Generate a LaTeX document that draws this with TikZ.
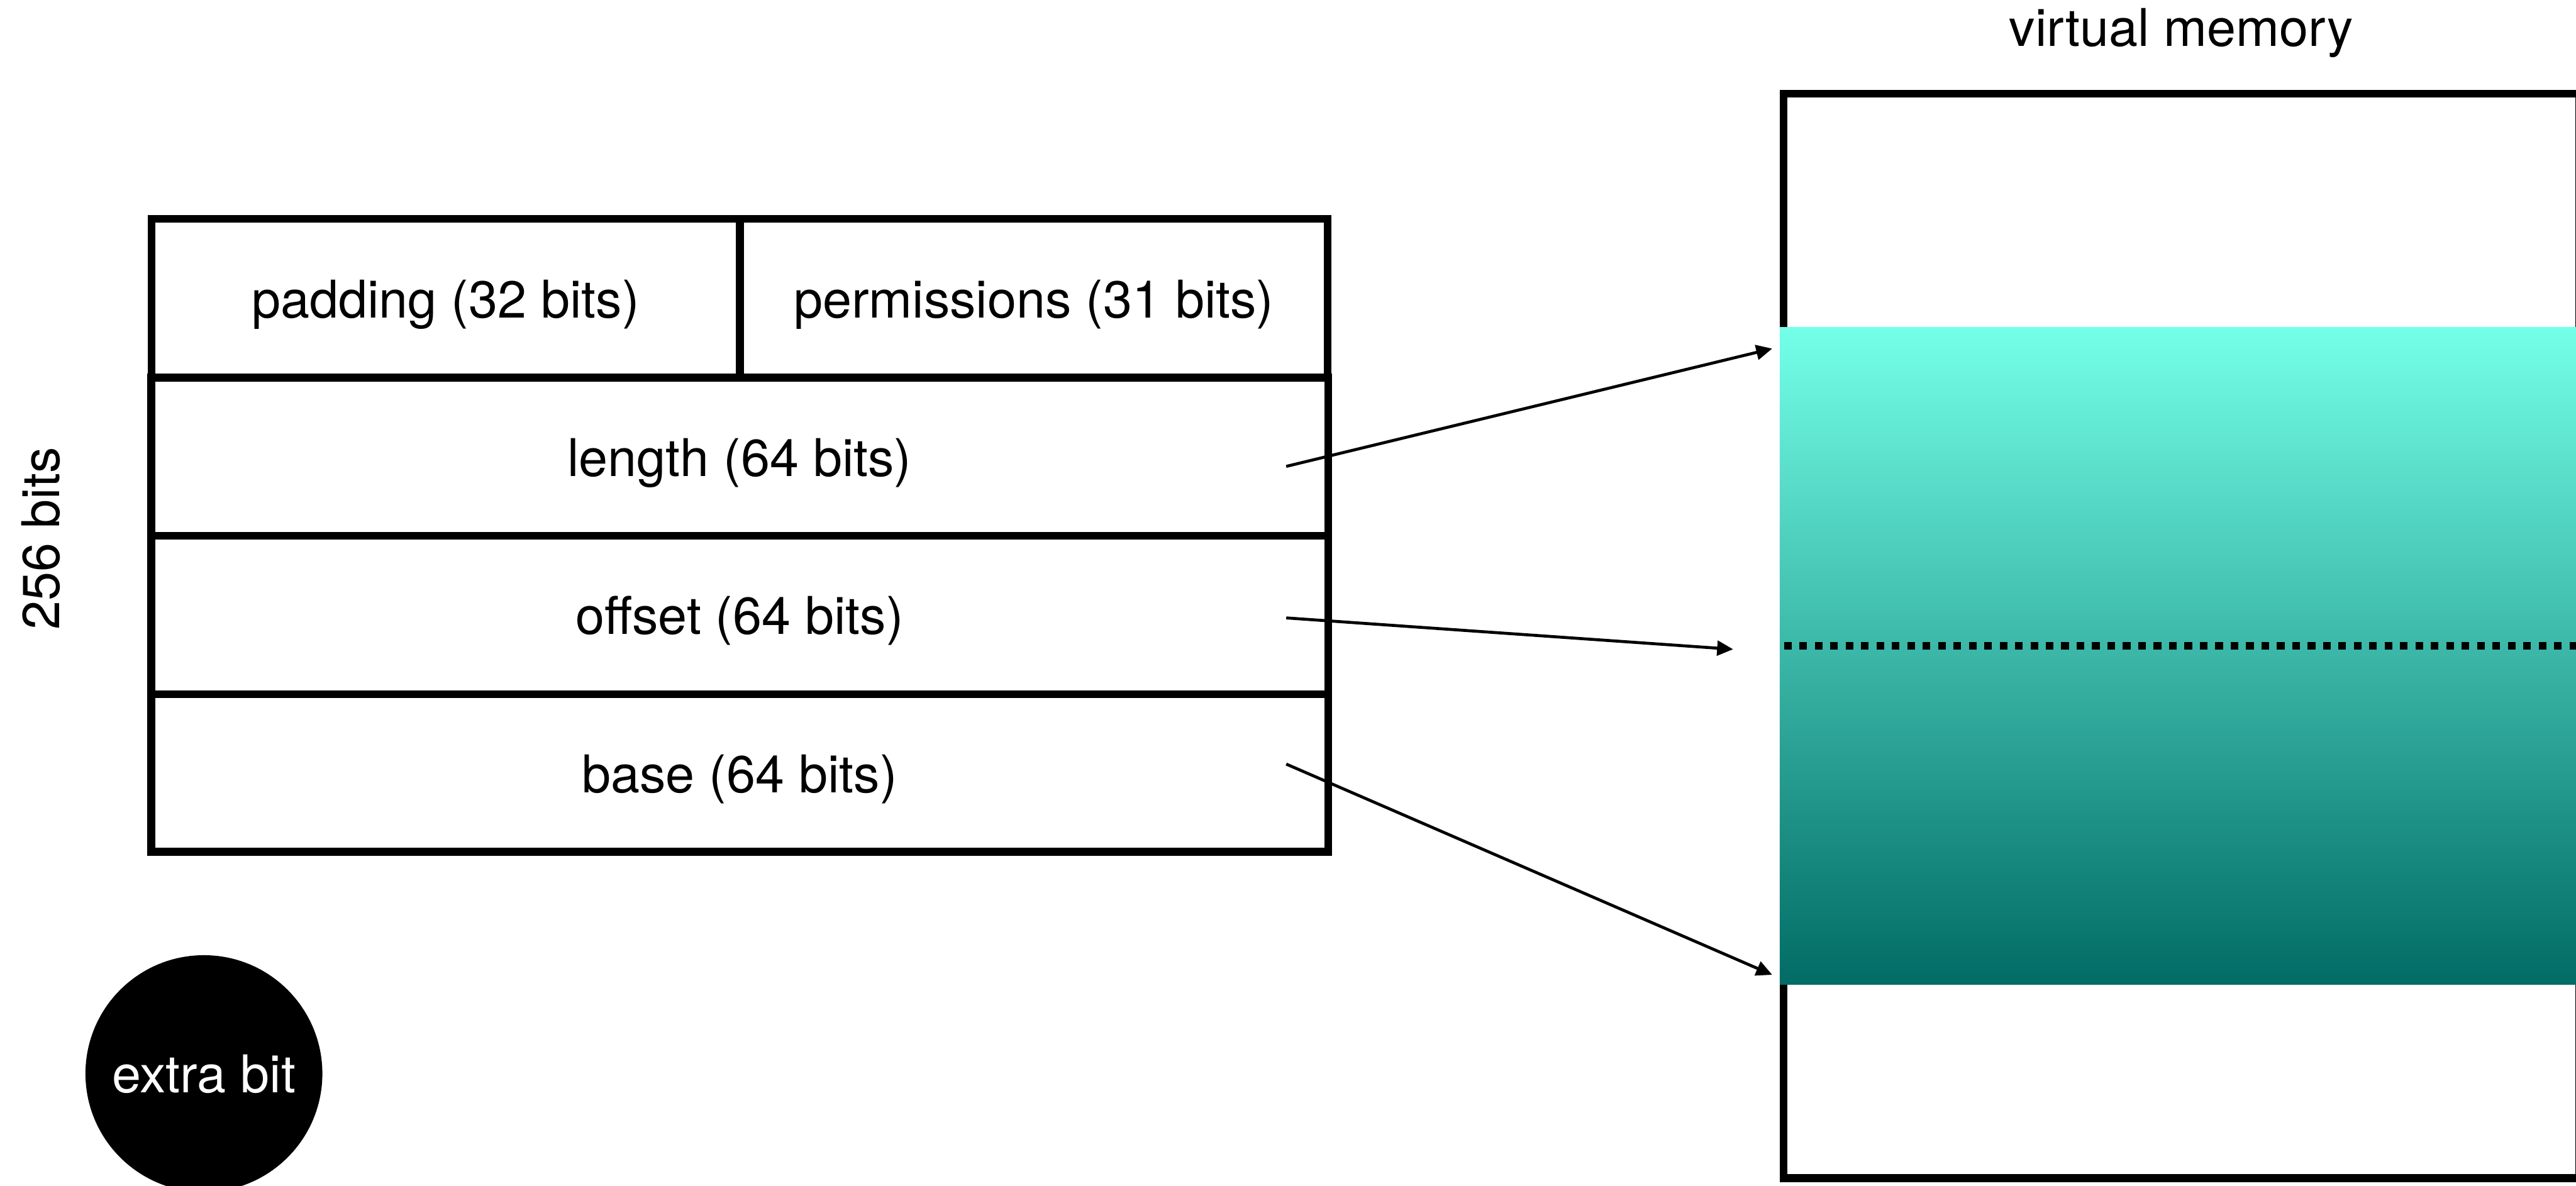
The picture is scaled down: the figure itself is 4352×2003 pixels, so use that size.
\documentclass[tikz,border=0pt]{standalone}
\usepackage{fontspec}
\setmainfont{TeX Gyre Heros}
\usetikzlibrary{arrows.meta}
\definecolor{memtop}{RGB}{116,255,232}
\definecolor{membot}{RGB}{1,108,101}
\begin{document}
\begin{tikzpicture}[x=0.01cm,y=-0.01cm,
  every node/.style={font=\fontsize{25pt}{30pt}\selectfont},
  cell/.style={draw=black,line width=0.13cm,inner sep=0pt,outer sep=0pt},
  lbl/.style={anchor=base,inner sep=0pt,outer sep=0pt},
  link/.style={line width=0.05cm,-{Triangle[length=0.27cm,width=0.25cm]}}]

\useasboundingbox (0,0) rectangle (4352,2003);
\clip (0,0) rectangle (4352,2003);

% capability layout: four rows, the first split in two
\node[cell,minimum width=9.94cm,minimum height=2.68cm] (pad)  at (753,504) {};
\node[cell,minimum width=9.93cm,minimum height=2.68cm] (perm) at (1746.5,504) {};
\node[cell,minimum width=19.87cm,minimum height=2.67cm] (len) at (1249.5,771.5) {};
\node[cell,minimum width=19.87cm,minimum height=2.68cm] (off) at (1249.5,1039) {};
\node[cell,minimum width=19.87cm,minimum height=2.66cm] (base) at (1249.5,1306) {};

\node[lbl] (padT)  at (753,537)     {padding (32 bits)};
\node[lbl] (permT) at (1746.5,537)  {permissions (31 bits)};
\node[lbl] (lenT)  at (1249.5,805)  {length (64 bits)};
\node[lbl] (offT)  at (1249.5,1072) {offset (64 bits)};
\node[lbl] (baseT) at (1249.5,1339) {base (64 bits)};

\node[lbl,rotate=90] (bitsT) at (100,910) {256 bits};

% tag bit
\node[circle,fill=black,minimum size=4cm,inner sep=0pt] (xbit) at (344.5,1814) {};
\node[lbl,text=white] (xbitT) at (344.5,1846) {extra bit};

% virtual memory with the addressed region
\node[cell,minimum width=13.43cm,minimum height=18.315cm] (vm) at (3685,1074.25) {};
\node[lbl] (vmT) at (3685,78) {virtual memory};
\node[inner sep=0pt,outer sep=0pt,minimum width=13.6cm,minimum height=11.10cm,
      top color=memtop,bottom color=membot] (region) at (3687,1108) {};

\coordinate (dotL) at (3014,1091);
\coordinate (dotR) at (4360,1091);
\draw[line width=0.13cm,dash pattern=on 0.13cm off 0.13cm] (dotL) -- (dotR);

% pointers from the fields into memory
\coordinate (lenFrom)  at (2173,788);
\coordinate (lenTo)    at (2994,589);
\coordinate (offFrom)  at (2173,1044);
\coordinate (offTo)    at (2928,1097);
\coordinate (baseFrom) at (2173,1291);
\coordinate (baseTo)   at (2994,1647);
\draw[link] (lenFrom) -- (lenTo);
\draw[link] (offFrom) -- (offTo);
\draw[link] (baseFrom) -- (baseTo);
\end{tikzpicture}
\end{document}
